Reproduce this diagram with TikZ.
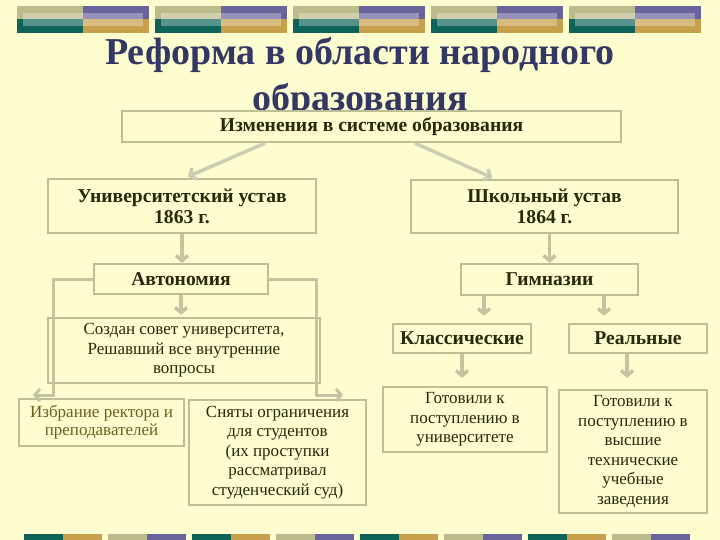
\documentclass[tikz,border=0pt]{standalone}
\usepackage{fontspec}
\setmainfont{Liberation Serif}
\usepackage{tikz}
\usetikzlibrary{positioning,arrows.meta,calc}
\definecolor{bgc}{RGB}{253,253,208}
\definecolor{titlec}{RGB}{50,55,100}
\definecolor{framec}{RGB}{190,190,148}
\definecolor{arrc}{RGB}{196,196,160}
\definecolor{arrlc}{RGB}{205,205,178}
\definecolor{txtc}{RGB}{40,40,10}
\definecolor{olivetxt}{RGB}{105,95,30}
\definecolor{olivec}{RGB}{187,187,140}
\definecolor{purplec}{RGB}{105,100,155}
\definecolor{tealc}{RGB}{15,100,90}
\definecolor{goldc}{RGB}{200,160,75}

\begin{document}
\begin{tikzpicture}[x=1pt,y=-1pt,
  box/.style={draw=framec,line width=2.4pt,fill=bgc,text=txtc,inner sep=0pt,align=center},
  hd/.style={box,font=\bfseries\fontsize{19.6}{21}\selectfont},
  note/.style={box,font=\fontsize{17}{19.5}\selectfont},
  arr/.style={draw=arrc,line width=3.5pt,-{Straight Barb[length=5pt,width=12pt]}}]
  \fill[bgc] (0,0) rectangle (720,540);
  \useasboundingbox (0,0) rectangle (720,540);
  \foreach \i in {0,...,4}{
    \pgfmathsetmacro{\xa}{16.7+138*\i}
    \fill[olivec] (\xa,6) rectangle ++(66,13);
    \fill[purplec] (\xa+66,6) rectangle ++(66,13);
    \fill[tealc] (\xa,19) rectangle ++(66,13.7);
    \fill[goldc] (\xa+66,19) rectangle ++(66,13.7);
    \fill[white,opacity=.3] (\xa+6,12.7) rectangle ++(120,13.3);
  }
  \foreach \i/\ca/\cb in {0/tealc/goldc,1/olivec/purplec,2/tealc/goldc,3/olivec/purplec,
                          4/tealc/goldc,5/olivec/purplec,6/tealc/goldc,7/olivec/purplec}{
    \fill[\ca] ({24+84*\i},534) rectangle ++(39,6);
    \fill[\cb] ({63+84*\i},534) rectangle ++(39,6);
  }
  \node[font=\bfseries\fontsize{38}{46}\selectfont,text=titlec,align=center,anchor=base] (ttl) at (360,111)
    {Реформа в области народного\\образования};

  \node[hd,minimum width=499,minimum height=31] (chg) at (371.5,126.5) {Изменения в системе образования};
  \node[hd,minimum width=268,minimum height=54] (univ) at (182,206) {Университетский устав\\1863 г.};
  \node[hd,minimum width=267,minimum height=53] (school) at (544.5,206.5) {Школьный устав\\1864 г.};
  \node[hd,minimum width=174,minimum height=30] (auto) at (181,279) {Автономия};
  \node[hd,minimum width=177,minimum height=31] (gym) at (549.5,279.5) {Гимназии};
  \node[note,minimum width=272,minimum height=65] (sovet) at (184,350.5)
    {Создан совет университета,\\Решавший все внутренние\\вопросы};
  \node[hd,minimum width=138,minimum height=29] (klass) at (462,338.5) {Классические};
  \node[hd,minimum width=138,minimum height=29] (real) at (638,338.5) {Реальные};
  \node[note,text=olivetxt,font=\fontsize{17}{18}\selectfont,minimum width=165,minimum height=47] (izbr) at (101.5,422.5)
    {Избрание ректора и\\преподавателей};
  \node[note,minimum width=177,minimum height=105] (snyat) at (277.5,452.5)
    {Сняты ограничения\\для студентов\\(их проступки\\рассматривал\\студенческий суд)};
  \node[note,minimum width=164,minimum height=65] (gotov1) at (465,419.5)
    {Готовили к\\поступлению в\\университете};
  \node[note,minimum width=148,minimum height=123] (gotov2) at (633,451.5)
    {Готовили к\\поступлению в\\высшие\\технические\\учебные\\заведения};

  \draw[arr,draw=arrlc,shorten >=3pt] ([xshift=-106.5]chg.south) -- ([xshift=3]univ.north);
  \draw[arr,draw=arrlc,shorten >=3pt] ([xshift=43.5]chg.south) -- ([xshift=-49.5]school.north);
  \draw[arr] (univ.south) -- (univ.south |- auto.north);
  \draw[arr,shorten >=2pt] (auto.south) -- (auto.south |- sovet.north);
  \draw[arr] (gym.north |- school.south) -- (gym.north);
  \draw[arr,shorten >=7pt] ([xshift=-65.5]gym.south) -- ([xshift=-65.5]gym.south |- klass.north);
  \draw[arr,shorten >=7pt] ([xshift=54.5]gym.south) -- ([xshift=54.5]gym.south |- real.north);
  \draw[arr,shorten >=8pt] (klass.south) -- (klass.south |- gotov1.north);
  \draw[arr,shorten >=11pt] ([xshift=-11]real.south) -- ([xshift=-11]real.south |- gotov2.north);

  \coordinate (lend) at (33,395);
  \coordinate (rend) at (343,395);
  \draw[arr,line width=3pt] (auto.west) -| ([xshift=20]lend) -- (lend);
  \draw[arr,line width=3pt] (auto.east) -| ([xshift=-27]rend) -- (rend);
\end{tikzpicture}
\end{document}
